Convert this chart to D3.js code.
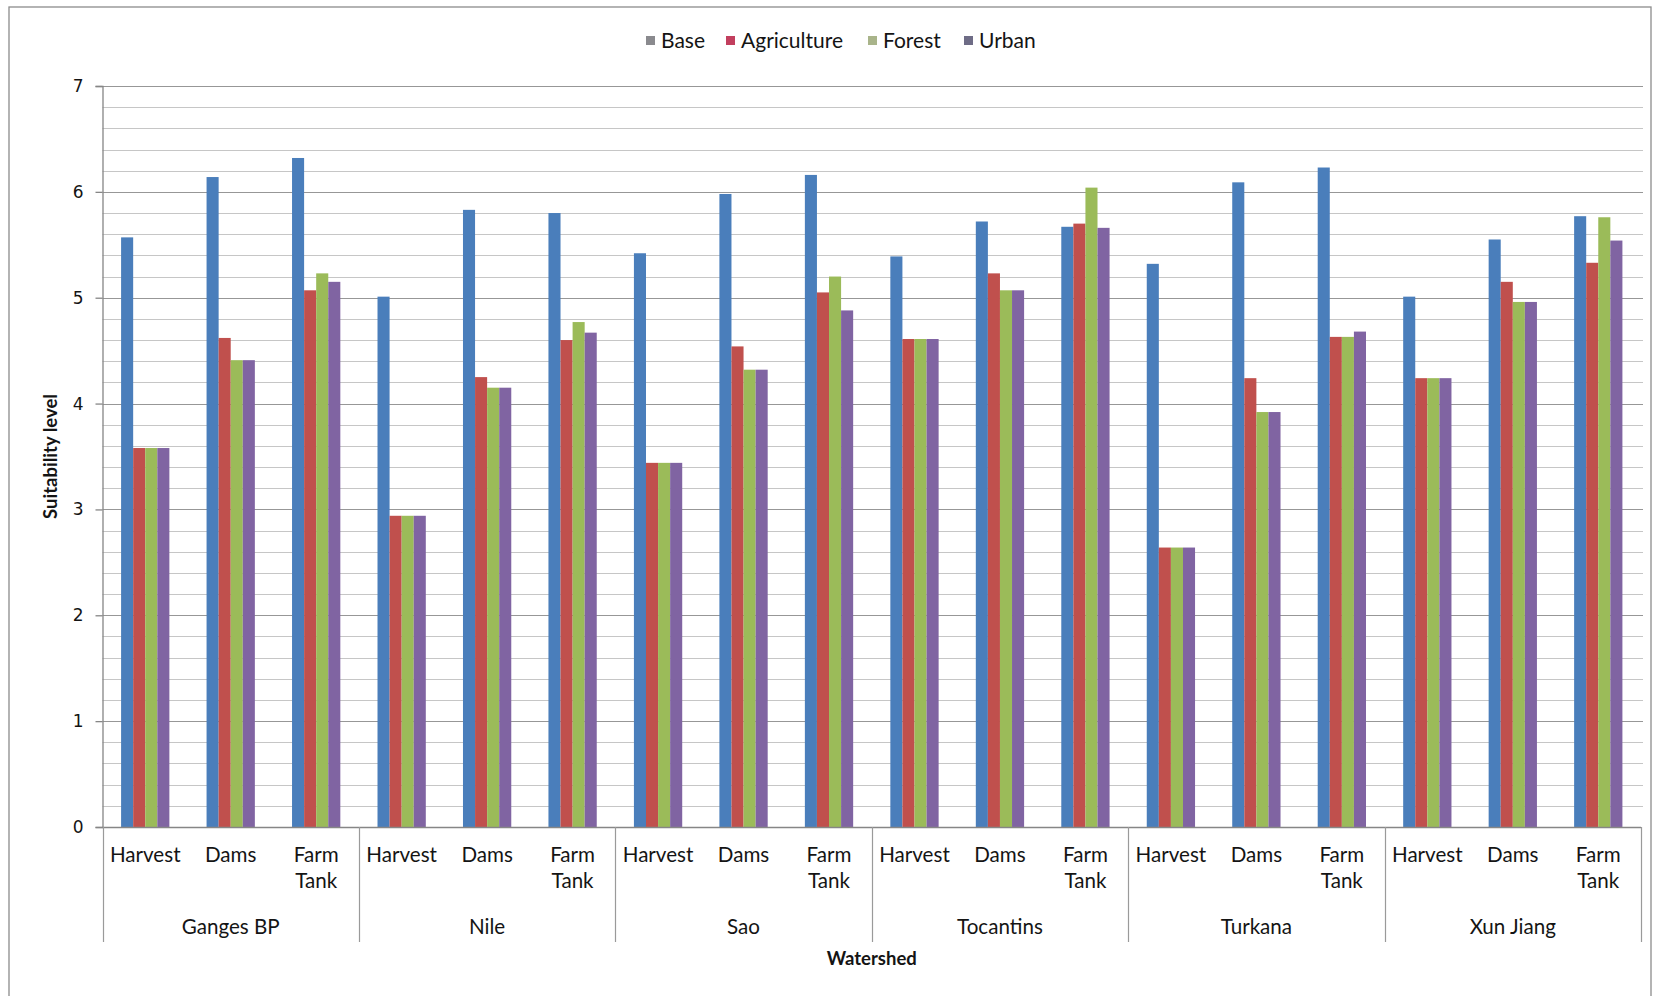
<!DOCTYPE html>
<html>
<head>
<meta charset="utf-8">
<script src="https://cdn.jsdelivr.net/npm/d3@7"></script>
<style>
  html, body { margin: 0; padding: 0; background: #ffffff; }
  svg { display: block; }
  text { font-family: Lato, "Open Sans", sans-serif; fill: #141414; }
</style>
</head>
<body>
<svg id="chart" width="1655" height="996"></svg>
<script>
// Watersheds and water-management options on the category axis
const watersheds = ["Ganges BP", "Nile", "Sao", "Tocantins", "Turkana", "Xun Jiang"];
const methods = ["Harvest", "Dams", "Farm Tank"];
const seriesNames = ["Base", "Agriculture", "Forest", "Urban"];
const yTicks = [0, 1, 2, 3, 4, 5, 6, 7];

// Suitability level per watershed × method (watershed-major order)
const baseValues        = [5.57, 6.14, 6.32, 5.01, 5.83, 5.80, 5.42, 5.98, 6.16, 5.39, 5.72, 5.67, 5.32, 6.09, 6.23, 5.01, 5.55, 5.77];
const agricultureValues = [3.58, 4.62, 5.07, 2.94, 4.25, 4.60, 3.44, 4.54, 5.05, 4.61, 5.23, 5.70, 2.64, 4.24, 4.63, 4.24, 5.15, 5.33];
const forestValues      = [3.58, 4.41, 5.23, 2.94, 4.15, 4.77, 3.44, 4.32, 5.20, 4.61, 5.07, 6.04, 2.64, 3.92, 4.63, 4.24, 4.96, 5.76];
const urbanValues       = [3.58, 4.41, 5.15, 2.94, 4.15, 4.67, 3.44, 4.32, 4.88, 4.61, 5.07, 5.66, 2.64, 3.92, 4.68, 4.24, 4.96, 5.54];

const seriesValues = [baseValues, agricultureValues, forestValues, urbanValues];
const barColors = ["#4a7ebb", "#c0504d", "#9bbb59", "#8064a2"];
const legendColors = ["#8a8a8e", "#c23f5e", "#a9b48a", "#6e6c86"];

const svg = d3.select("#chart");
const plot = { left: 102.5, right: 1641, top: 86, bottom: 827 };

// chart frame
svg.append("rect")
  .attr("x", 9).attr("y", 7)
  .attr("width", 1642).attr("height", 1000)
  .attr("fill", "none").attr("stroke", "#8c8c8c").attr("stroke-width", 1.3);

const y = d3.scaleLinear().domain([0, 7]).range([plot.bottom, plot.top]);
const xGroup = d3.scaleBand().domain(watersheds).range([plot.left, plot.right]).padding(0);
const xMethod = d3.scaleBand().domain(methods).range([0, xGroup.bandwidth()]).padding(0);
const xSeries = d3.scaleBand().domain(seriesNames).range([0, xMethod.bandwidth()])
  .paddingInner(0).paddingOuter(1.54);

// gridlines: minor every 0.2, major every 1
const grid = svg.append("g");
grid.selectAll("line.minor")
  .data(y.ticks(35).filter(v => Math.abs(v - Math.round(v)) > 1e-6))
  .join("line")
  .attr("x1", plot.left).attr("x2", plot.right + 2)
  .attr("y1", d => Math.round(y(d)) + 0.5).attr("y2", d => Math.round(y(d)) + 0.5)
  .attr("stroke", "#c6c6c6").attr("stroke-width", 1);
grid.selectAll("line.major")
  .data(yTicks.filter(v => v > 0))
  .join("line")
  .attr("x1", plot.left).attr("x2", plot.right + 2)
  .attr("y1", d => Math.round(y(d)) + 0.5).attr("y2", d => Math.round(y(d)) + 0.5)
  .attr("stroke", "#979797").attr("stroke-width", 1.2);

// bars
const rows = [];
watersheds.forEach((w, wi) => {
  methods.forEach((m, mi) => {
    seriesNames.forEach((s, si) => {
      rows.push({ w, m, s, si, v: seriesValues[si][wi * methods.length + mi] });
    });
  });
});
svg.append("g").selectAll("rect")
  .data(rows)
  .join("rect")
  .attr("x", d => xGroup(d.w) + xMethod(d.m) + xSeries(d.s))
  .attr("width", xSeries.bandwidth())
  .attr("y", d => y(d.v))
  .attr("height", d => y(0) - y(d.v))
  .attr("fill", d => barColors[d.si]);

// y axis
const yAxis = svg.append("g")
  .attr("transform", `translate(${plot.left},0)`)
  .call(d3.axisLeft(y).tickValues(yTicks).tickFormat(d3.format("d")).tickSize(7).tickPadding(12));
yAxis.select(".domain").attr("stroke", "#868686").attr("stroke-width", 1.3);
yAxis.selectAll(".tick line").attr("stroke", "#868686").attr("stroke-width", 1.3);
yAxis.selectAll(".tick text")
  .style("font-family", "'DejaVu Sans', sans-serif")
  .style("font-size", "17px").attr("fill", "#141414");

// x axis baseline
svg.append("line")
  .attr("x1", plot.left).attr("x2", plot.right)
  .attr("y1", plot.bottom + 0.5).attr("y2", plot.bottom + 0.5)
  .attr("stroke", "#868686").attr("stroke-width", 1.3);

// group dividers below the axis
const dividerX = watersheds.map(w => xGroup(w)).concat([plot.right]);
svg.append("g").selectAll("line")
  .data(dividerX)
  .join("line")
  .attr("x1", d => Math.round(d) + 0.5).attr("x2", d => Math.round(d) + 0.5)
  .attr("y1", plot.bottom).attr("y2", 942)
  .attr("stroke", "#9a9a9a").attr("stroke-width", 1.2);

// method labels (wrapped onto two lines where needed)
const methodLabels = svg.append("g");
watersheds.forEach(w => {
  methods.forEach(m => {
    const cx = xGroup(w) + xMethod(m) + xMethod.bandwidth() / 2;
    const t = methodLabels.append("text")
      .attr("x", cx).attr("y", 862)
      .attr("text-anchor", "middle")
      .style("font-size", "20.6px");
    m.split(" ").forEach((part, i) => {
      t.append("tspan").attr("x", cx).attr("dy", i === 0 ? 0 : 26).text(part);
    });
  });
});

// watershed labels
svg.append("g").selectAll("text")
  .data(watersheds)
  .join("text")
  .attr("x", d => xGroup(d) + xGroup.bandwidth() / 2)
  .attr("y", 934)
  .attr("text-anchor", "middle")
  .style("font-size", "20.6px")
  .text(d => d);

// axis titles
svg.append("text")
  .attr("x", (plot.left + plot.right) / 2).attr("y", 965)
  .attr("text-anchor", "middle")
  .style("font-size", "18.5px").style("font-weight", "bold")
  .text("Watershed");
svg.append("text")
  .attr("transform", `translate(57,${(plot.top + plot.bottom) / 2}) rotate(-90)`)
  .attr("text-anchor", "middle")
  .style("font-size", "18.5px").style("font-weight", "bold")
  .text("Suitability level");

// legend
const legendX = [646, 726, 868, 964];
const legend = svg.append("g");
seriesNames.forEach((s, i) => {
  legend.append("rect")
    .attr("x", legendX[i]).attr("y", 36)
    .attr("width", 9).attr("height", 9)
    .attr("fill", legendColors[i]);
  legend.append("text")
    .attr("x", legendX[i] + 15).attr("y", 48)
    .style("font-size", "21px")
    .text(s);
});
</script>
</body>
</html>
